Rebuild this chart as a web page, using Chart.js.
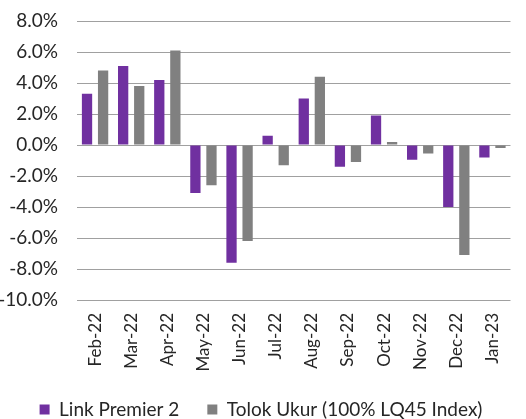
<!DOCTYPE html>
<html>
<head>
<meta charset="utf-8">
<script src="https://cdn.jsdelivr.net/npm/chart.js@4/dist/chart.umd.min.js"></script>
<style>
  html, body { margin: 0; padding: 0; background: #fff; }
  #wrap { width: 526px; height: 419px; }
</style>
</head>
<body>
<div id="wrap"><canvas id="chart"></canvas></div>
<script>
// monthly returns, in percent
const months = ["Feb-22", "Mar-22", "Apr-22", "May-22", "Jun-22", "Jul-22", "Aug-22", "Sep-22", "Oct-22", "Nov-22", "Dec-22", "Jan-23"];
const linkPremier = [3.3, 5.1, 4.2, -3.1, -7.6, 0.6, 3.0, -1.4, 1.9, -0.95, -4.0, -0.8];
const tolokUkur = [4.8, 3.8, 6.1, -2.6, -6.2, -1.3, 4.4, -1.1, 0.2, -0.55, -7.1, -0.2];
const yTicks = [8, 6, 4, 2, 0, -2, -4, -6, -8, -10];

const FONT = "Lato, 'Open Sans', sans-serif";

// legend items sit far apart, so padding is big; keep the box itself short
const legendHeight = {
  id: "legendHeight",
  beforeInit(chart) {
    const lg = chart.legend;
    if (!lg) return;
    const fit = lg.fit;
    lg.fit = function () {
      fit.call(this);
      this.height = 47;
    };
  }
};

new Chart(document.getElementById("chart"), {
  type: "bar",
  data: {
    labels: months,
    datasets: [
      {
        label: "Link Premier 2",
        data: linkPremier,
        backgroundColor: "#7030a0",
        categoryPercentage: 0.89,
        barPercentage: 0.64
      },
      {
        label: "Tolok Ukur (100% LQ45 Index)",
        data: tolokUkur,
        backgroundColor: "#808080",
        categoryPercentage: 0.89,
        barPercentage: 0.64
      }
    ]
  },
  plugins: [legendHeight],
  options: {
    responsive: true,
    maintainAspectRatio: false,
    animation: false,
    layout: { padding: { top: 21, right: 4, bottom: 0, left: 0 } },
    plugins: {
      tooltip: { enabled: false },
      legend: {
        position: "bottom",
        labels: {
          color: "#262626",
          font: { family: FONT, size: 19 },
          boxWidth: 10,
          boxHeight: 10,
          padding: 28
        }
      }
    },
    scales: {
      x: {
        afterFit: (scale) => { scale.height = 72; },
        grid: { display: false, drawTicks: false },
        border: { display: false },
        ticks: {
          color: "#262626",
          font: { family: FONT, size: 17 },
          minRotation: 90,
          maxRotation: 90,
          padding: 13
        }
      },
      y: {
        min: yTicks[yTicks.length - 1],
        max: yTicks[0],
        afterBuildTicks: (scale) => {
          scale.ticks = yTicks.map((v) => ({ value: v }));
        },
        afterFit: (scale) => {
          scale.width = 77;
          scale.paddingTop = 0;
          scale.paddingBottom = 0;
        },
        grid: { color: "#a0a0a0", lineWidth: 1, drawTicks: false },
        border: { display: false },
        ticks: {
          color: "#262626",
          font: { family: FONT, size: 19 },
          padding: 19,
          callback: (v) => v.toFixed(1) + "%"
        }
      }
    }
  }
});
</script>
</body>
</html>
